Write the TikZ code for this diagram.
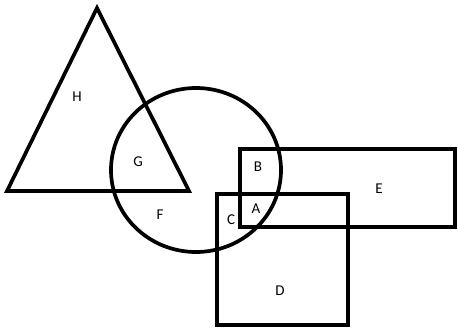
\documentclass[tikz,border=0pt]{standalone}
\usepackage{fontspec}
\setmainfont{Carlito}
\usetikzlibrary{positioning}
\tikzset{
  shapeline/.style={draw=black,line width=3.7pt,line join=miter},
  regionlabel/.style={font=\fontsize{15}{15}\selectfont,text=black,inner sep=0pt}
}
\begin{document}
\begin{tikzpicture}[x=1pt,y=-1pt]
  \useasboundingbox (0,0) rectangle (457,329);
  % Triangle
  \draw[shapeline] (97,8) -- (189,191) -- (7,191) -- cycle;
  % Circle
  \draw[shapeline] (196,170) ellipse (85 and 82);
  % Rectangle E
  \draw[shapeline] (240,149) rectangle (455,227);
  % Square D
  \draw[shapeline] (217,194) rectangle (348,325);
  % Region labels
  \node[regionlabel] (labH) at (77,97) {H};
  \node[regionlabel] (labG) at (138,162) {G};
  \node[regionlabel] (labF) at (160,215) {F};
  \node[regionlabel] (labC) at (231,220) {C};
  \node[regionlabel] (labA) at (256,209) {A};
  \node[regionlabel] (labB) at (258,167) {B};
  \node[regionlabel] (labE) at (379,189) {E};
  \node[regionlabel] (labD) at (280,291) {D};
\end{tikzpicture}
\end{document}
